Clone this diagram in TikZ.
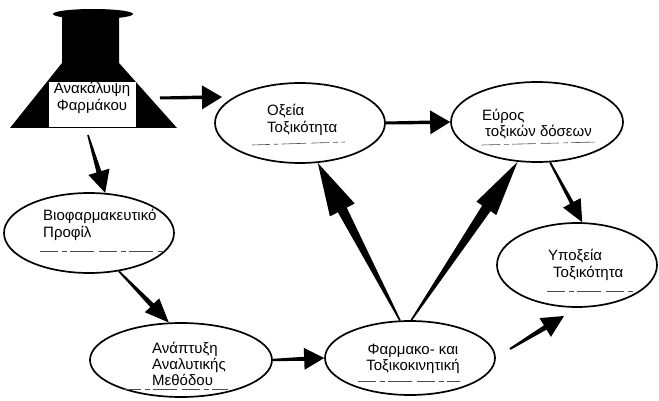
\documentclass[tikz,border=0pt]{standalone}
\usepackage{fontspec}
\setmainfont{Liberation Sans}
\usetikzlibrary{shapes.geometric,calc}
% tapered arrow: #1 start, #2 tip, #3 head length, #4 head half width, #5 shaft half width at start, #6 shaft half width at head
\newcommand\taparrow[6]{%
  \coordinate (tpH) at ($(#2)!#3!(#1)$);
  \fill ($(#1)!#5!90:(#2)$) -- ($(tpH)!#6!90:(#2)$) -- ($(tpH)!#4!90:(#2)$) -- (#2)
     -- ($(tpH)!#4!-90:(#2)$) -- ($(tpH)!#6!-90:(#2)$) -- ($(#1)!#5!-90:(#2)$) -- cycle;}
\tikzset{
  oval/.style 2 args={draw, ellipse, line width=1.7pt, inner sep=0pt, minimum width=#1, minimum height=#2},
  txt/.style={font=\fontsize{15}{16.4}\selectfont, inner sep=0pt, align=left},
  uline/.style={line width=0.6pt, black!70, dash pattern=on 18pt off 4pt on 5pt off 3pt on 24pt off 5pt}
}
\begin{document}
\begin{tikzpicture}[x=1pt,y=-1pt]
\useasboundingbox (0,0) rectangle (659,401);
% flask
\fill (62,14) -- (62,63) -- (10,128) -- (177,128) -- (119,63) -- (119,14) -- cycle;
\fill (93,14) ellipse [x radius=40pt, y radius=5pt];
\fill[white] (49,82) rectangle (136,127.5);
\node[txt, align=center] (fl) at (92,98) {Ανακάλυψη\\Φαρμάκου};
% ellipses
\node[oval={170pt}{80pt}] (ox) at (300,123) {};
\node[oval={172pt}{80pt}] (ey) at (537,122) {};
\node[oval={170pt}{80pt}] (bf) at (89,233) {};
\node[oval={182pt}{74pt}] (an) at (181,360) {};
\node[oval={170pt}{74pt}] (fk) at (410,358) {};
\node[oval={160pt}{84pt}] (yp) at (577,265) {};
% texts
\node[txt, anchor=west] (oxt) at (267,120) {Οξεία\\Τοξικότητα};
\node[txt, anchor=west] (eyt) at (482,124) {Εύρος\\\hspace*{3pt}τοξικών δόσεων};
\node[txt, anchor=west] (bft) at (43,225) {Βιοφαρμακευτικό\\Προφίλ};
\node[txt, anchor=west] (ant) at (152,364) {Ανάπτυξη\\Αναλυτικής\\Μεθόδου};
\node[txt, align=center] (fkt) at (413,359) {Φαρμακο- και\\Τοξικοκινητική};
\node[txt, anchor=west] (ypt) at (548,265) {Υποξεία\\\hspace*{5pt}Τοξικότητα};
% underlines
\draw[uline] (252,145) -- (345,142);
\draw[uline] (482,145) -- (597,142);
\draw[uline] (40,251) -- (164,251);
\draw[uline] (123,389) -- (228,389);
\draw[uline] (358,381) -- (460,381);
\draw[uline] (547,291) -- (635,291);
% free ends
\coordinate (a1s) at (160,98);
\coordinate (a1e) at (222,97);
\coordinate (a3s) at (88,135);
\coordinate (a9s) at (510,349);
\coordinate (a9e) at (564,316);
% arrows
\taparrow{a1s}{a1e}{20pt}{12pt}{1.5pt}{1.8pt}
\taparrow{ox.east}{ey.west}{20pt}{12pt}{1.5pt}{1.8pt}
\taparrow{a3s}{bf.68}{22pt}{11pt}{0.8pt}{2.5pt}
\taparrow{bf.-52}{an.108}{24pt}{10pt}{0.8pt}{2.5pt}
\taparrow{an.east}{fk.west}{20pt}{11pt}{1.2pt}{2pt}
\taparrow{fk.105}{ox.-66}{53pt}{14pt}{0.8pt}{5pt}
\taparrow{fk.88}{ey.-116}{56pt}{12pt}{0.8pt}{5pt}
\taparrow{ey.-72}{yp.83}{22pt}{10pt}{0.9pt}{2pt}
\taparrow{a9s}{a9e}{22pt}{11pt}{1pt}{2.5pt}
\end{tikzpicture}
\end{document}
